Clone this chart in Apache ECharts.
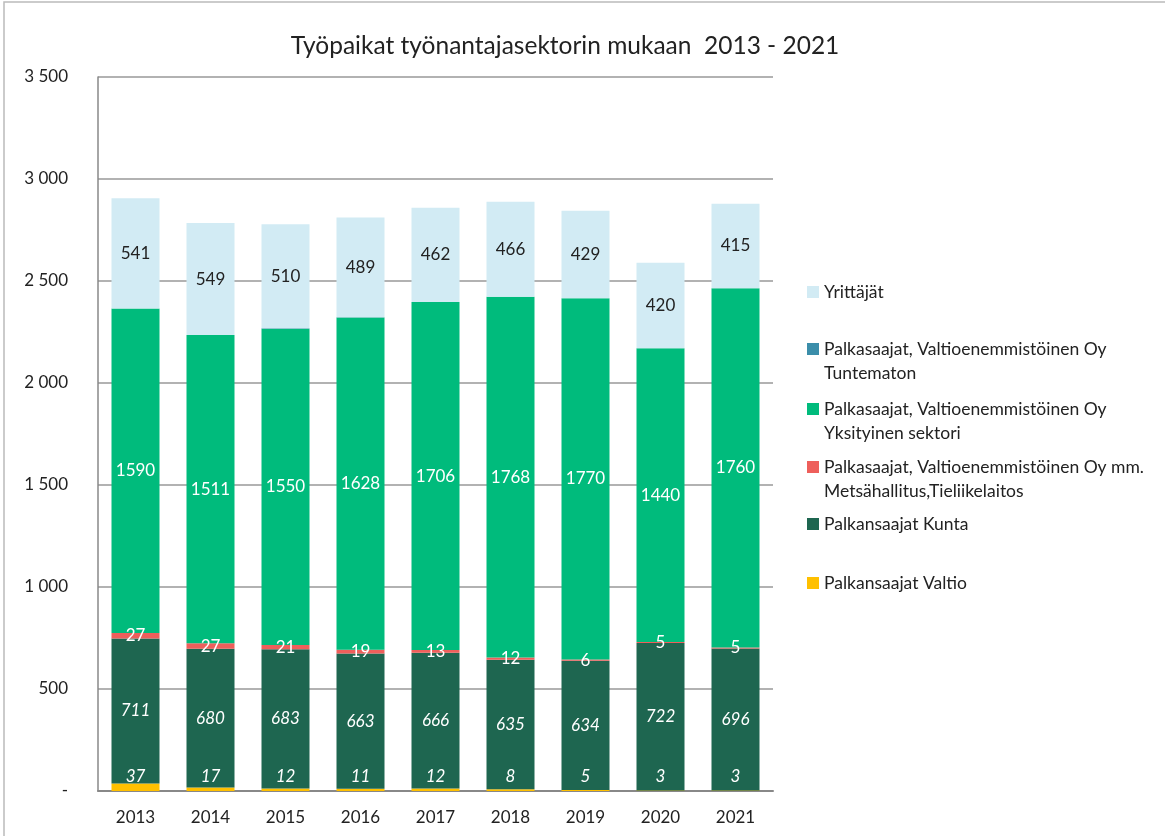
<!DOCTYPE html>
<html><head><meta charset="utf-8">
<script src="https://cdn.jsdelivr.net/npm/echarts@6/dist/echarts.min.js"></script>
<style>html,body{margin:0;padding:0;background:#fff}#c{width:1165px;height:836px}</style>
</head><body><div id="c"></div>
<script>
const years = ['2013','2014','2015','2016','2017','2018','2019','2020','2021'];
const valtio = [37,17,12,11,12,8,5,3,3];
const kunta = [711,680,683,663,666,635,634,722,696];
const metsahallitus = [27,27,21,19,13,12,6,5,5];
const yksityinen = [1590,1511,1550,1628,1706,1768,1770,1440,1760];
const tuntematon = [0,0,2,1,0,0,0,0,0];
const yrittajat = [541,549,510,489,462,466,429,420,415];
const yTicks = [0,500,1000,1500,2000,2500,3000,3500];

const names = {
  yr:'Yrittäjät',
  tu:'Palkasaajat, Valtioenemmistöinen Oy\nTuntematon',
  yk:'Palkasaajat, Valtioenemmistöinen Oy\nYksityinen sektori',
  me:'Palkasaajat, Valtioenemmistöinen Oy mm.\nMetsähallitus,Tieliikelaitos',
  ku:'Palkansaajat Kunta',
  va:'Palkansaajat Valtio'
};
const colors = {yr:'#d2ebf4', tu:'#3b8eaa', yk:'#00bb7c', me:'#ee5f5b', ku:'#1e6650', va:'#ffc000'};
const FONT = 'Lato';
function fmt(v){ if(v===0) return '-'; const s=String(v); return s.length>3? s.slice(0,s.length-3)+' '+s.slice(-3) : s; }

function bar(key, data, label){
  return {name:names[key], type:'bar', stack:'s', data:data, barWidth:'64%',
    itemStyle:{color:colors[key]}, label:label||{show:false}, emphasis:{disabled:true}};
}
const lbl = (color, italic, pos, dist) => ({show:true, position:pos||'inside', distance:dist||0, color:color,
  fontFamily:FONT, fontSize:17, fontStyle:italic?'italic':'normal'});

const chart = echarts.init(document.getElementById('c'));
const legendTops = [{k:'yr',t:275},{k:'tu',t:308},{k:'yk',t:368},{k:'me',t:426},{k:'ku',t:507},{k:'va',t:566}];
chart.setOption({
  animation:false,
  title:{text:'Työpaikat työnantajasektorin mukaan  2013 - 2021', left:560, top:29, textAlign:'center',
    textStyle:{fontFamily:FONT, fontSize:24.5, fontWeight:'normal', color:'#222'}},
  graphic:[{type:'rect', shape:{x:4,y:2,width:1170,height:840}, style:{fill:'none', stroke:'#bbb', lineWidth:1.5}, silent:true}],
  legend: legendTops.map(o=>({data:[names[o.k]], left:802, top:o.t, orient:'vertical', itemWidth:12, itemHeight:12, itemGap:0,
    icon:'rect', selectedMode:false,
    formatter: n => n.includes('\n') ? '\n' + n : n,
    textStyle:{fontFamily:FONT, fontSize:17.5, color:'#222', lineHeight:24}})),
  grid:{left:98, right:392, top:77, bottom:45},
  xAxis:{type:'category', data:years, axisTick:{show:false},
    axisLine:{lineStyle:{color:'#888', width:2}},
    axisLabel:{fontFamily:FONT, fontSize:17, color:'#222', margin:18}},
  yAxis:{type:'value', min:0, max:3500, interval:500,
    axisLine:{show:true, lineStyle:{color:'#888', width:1.5}},
    splitLine:{lineStyle:{color:'#999', width:1.5}},
    axisLabel:{fontFamily:FONT, fontSize:17, color:'#222', margin:30, formatter:v=>fmt(v)}},
  series:[
    bar('va', valtio, lbl('#fff', true, 'insideBottom', 6)),
    bar('ku', kunta, lbl('#fff', true)),
    bar('me', metsahallitus, lbl('#fff', false)),
    bar('yk', yksityinen, lbl('#fff', false)),
    bar('tu', tuntematon),
    bar('yr', yrittajat, lbl('#222', false))
  ]
});
</script></body></html>
